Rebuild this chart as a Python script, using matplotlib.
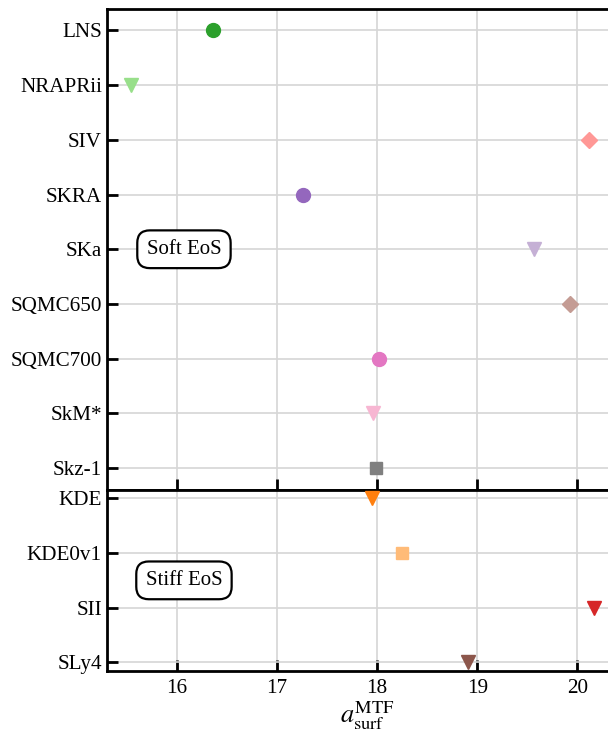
import matplotlib
matplotlib.use("Agg")
import matplotlib.pyplot as plt

plt.rcParams['font.family'] = ['Liberation Serif', 'DejaVu Serif']
plt.rcParams['mathtext.fontset'] = 'stix'

# Soft EoS group
soft_names = ['LNS', 'NRAPRii', 'SIV', 'SKRA', 'SKa', 'SQMC650', 'SQMC700', 'SkM*', 'Skz-1']
soft_vals = [16.36, 15.54, 20.12, 17.26, 19.57, 19.93, 18.02, 17.96, 17.99]
soft_markers = ['o', 'v', 'D', 'o', 'v', 'D', 'o', 'v', 's']
soft_colors = ['#2ca02c', '#98df8a', '#ff9896', '#9467bd', '#c5b0d5',
               '#c49c94', '#e377c2', '#f7b6d2', '#7f7f7f']

# Stiff EoS group
stiff_names = ['KDE', 'KDE0v1', 'SII', 'SLy4']
stiff_vals = [17.95, 18.25, 20.17, 18.91]
stiff_markers = ['v', 's', 'v', 'v']
stiff_colors = ['#ff7f0e', '#ffbb78', '#d62728', '#8c564b']

xticks = [16, 17, 18, 19, 20]

fig = plt.figure(figsize=(6.08, 7.33), dpi=100)
left, width = 0.1768, 0.855
ax1 = fig.add_axes([left, 0.3315, width, 0.9884 - 0.3315])
ax2 = fig.add_axes([left, 0.085, width, 0.3315 - 0.085])

msize = {'o': 10, 'v': 10, 'D': 8.5, 's': 9}

for ax, names, vals, mks, cols in [(ax1, soft_names, soft_vals, soft_markers, soft_colors),
                                   (ax2, stiff_names, stiff_vals, stiff_markers, stiff_colors)]:
    for i, (v, m, c) in enumerate(zip(vals, mks, cols)):
        ax.plot(v, i, marker=m, color=c, markersize=msize[m], linestyle='none',
                zorder=5, clip_on=False)
    ax.set_yticks(range(len(names)))
    ax.set_yticklabels(names)
    ax.set_xlim(15.306, 20.5)
    ax.set_xticks(xticks)
    ax.grid(True, color='#d6d6d6', linewidth=1.2, zorder=0)
    ax.set_axisbelow(True)
    for s in ax.spines.values():
        s.set_linewidth(2)
    ax.tick_params(axis='both', direction='in', length=8, width=2, labelsize=15.2)
    ax.tick_params(axis='y', pad=4)

ax1.set_ylim(8.4, -0.4)
ax2.set_ylim(3.15, -0.15)
ax1.tick_params(axis='x', labelbottom=False)
ax2.tick_params(axis='x', top=False, pad=6)
ax2.set_xlabel(r'$a_{\rm surf}^{\rm MTF}$', fontsize=19, labelpad=1)

box = dict(boxstyle='round,pad=0.45,rounding_size=0.6', facecolor='white',
           edgecolor='black', linewidth=1.6)
ax1.text(16.07, 4.0, 'Soft EoS', fontsize=15, ha='center', va='center', bbox=box, zorder=6)
ax2.text(16.07, 1.5, 'Stiff EoS', fontsize=15, ha='center', va='center', bbox=box, zorder=6)

fig.savefig('out.png', dpi=100)
